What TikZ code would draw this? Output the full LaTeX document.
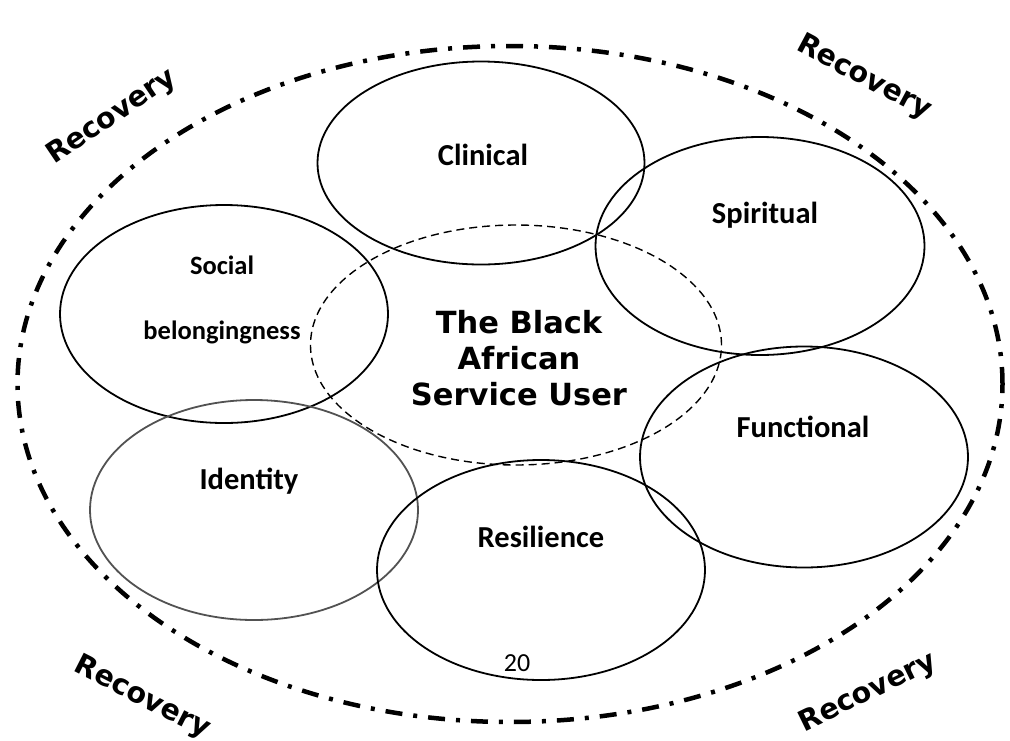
\documentclass[tikz,border=0pt]{standalone}
\usepackage{fontspec}
\setmainfont{Carlito}
\newfontfamily\dvb{DejaVu Sans Bold}
\usetikzlibrary{shapes.geometric}
\begin{document}
\begin{tikzpicture}[x=1pt,y=-1pt,
  ring/.style={draw=black,ellipse,line width=1.8pt,inner sep=0pt},
  lbl/.style={font=\fontsize{30.5}{34}\selectfont\bfseries,inner sep=0pt},
  slbl/.style={font=\fontsize{26.5}{30}\selectfont\bfseries,inner sep=0pt},
  rec/.style={font=\dvb\fontsize{28.5}{30}\selectfont,inner sep=0pt},
  core/.style={font=\dvb\fontsize{30.5}{36}\selectfont,align=center,inner sep=0pt}]
\useasboundingbox (0,0) rectangle (1010,740);
% outer recovery ring
\node[draw=black,ellipse,line width=4.5pt,inner sep=0pt,
  dash pattern=on 17pt off 11pt on 4pt off 11pt,
  minimum width=985pt,minimum height=676pt] (outer) at (510,384) {};
% domain rings
\node[ring,minimum width=327pt,minimum height=203pt] (clin) at (481,163) {};
\node[ring,minimum width=329pt,minimum height=218pt] (spir) at (760,246) {};
\node[ring,minimum width=328pt,minimum height=218pt] (soc) at (224,314) {};
\node[draw=black,ellipse,inner sep=0pt,line width=1.4pt,dash pattern=on 8pt off 5pt,
  minimum width=411pt,minimum height=240pt] (user) at (516,345) {};
\node[ring,minimum width=328pt,minimum height=221pt] (func) at (804,457) {};
\node[ring,draw=black!68,minimum width=328pt,minimum height=220pt] (iden) at (254,510) {};
\node[ring,minimum width=328pt,minimum height=220pt] (resi) at (541,570) {};
% labels
\node[lbl] (tclin) at (483,155) {Clinical};
\node[lbl] (tspir) at (765,215) {Spiritual};
\node[slbl] (tsoc1) at (222,265) {Social};
\node[slbl] (tsoc2) at (222,332) {belongingness};
\node[lbl] (tfunc) at (803,427) {Functional};
\node[lbl] (tiden) at (249,481) {Identity};
\node[lbl] (tresi) at (541,537) {Resilience};
\node[font=\fontsize{26}{30}\selectfont,inner sep=0pt] (num) at (517,663) {20};
\node[core] (tuser) at (519,358) {The Black\\African\\Service User};
% recovery labels
\node[rec,rotate=34] (r1) at (112,117) {Recovery};
\node[rec,rotate=-28] (r2) at (864,78) {Recovery};
\node[rec,rotate=-27] (r3) at (142,698) {Recovery};
\node[rec,rotate=26] (r4) at (868,693) {Recovery};
\end{tikzpicture}
\end{document}
